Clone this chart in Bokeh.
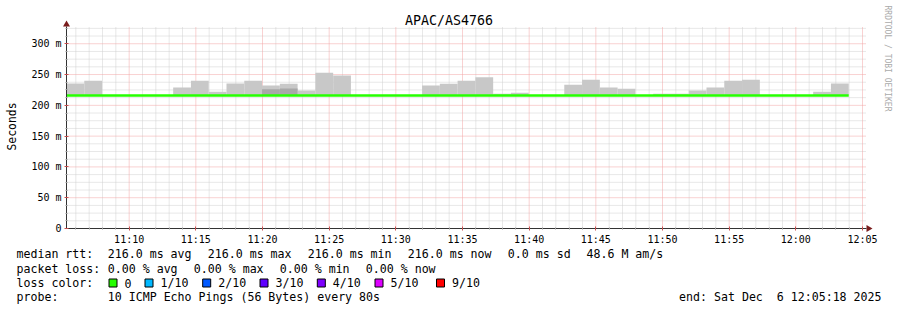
import math
import pandas as pd
from bokeh.plotting import figure
from bokeh.models import (ColumnDataSource, FixedTicker, DatetimeTickFormatter, Label,
                          BoxAnnotation, PolyAnnotation, Range1d)
from bokeh.embed import file_html
from bokeh.resources import INLINE

# ---------------- data ----------------
title_text = "APAC/AS4766"
start_time = "2025-12-06 11:05:18"
end_time = "2025-12-06 12:05:18"
step_seconds = 80

median_rtt = [216.0, 216.0, 216.0, 216.0, 216.0, 216.0, 216.0, 216.0, 216.0, 216.0, 216.0,
              216.0, 216.0, 216.0, 216.0, 216.0, 216.0, 216.0, 216.0, 216.0, 216.0, 216.0,
              216.0, 216.0, 216.0, 216.0, 216.0, 216.0, 216.0, 216.0, 216.0, 216.0, 216.0,
              216.0, 216.0, 216.0, 216.0, 216.0, 216.0, 216.0, 216.0, 216.0, 216.0, 216.0]
smoke_max = [235.6, 240.0, 216.0, 216.0, 216.0, 216.0, 229.0, 240.0, 222.0, 235.6, 240.0,
             232.0, 235.0, 224.0, 253.0, 248.6, 216.0, 216.0, 216.0, 216.0, 232.0, 235.0,
             240.0, 245.5, 219.0, 220.5, 216.0, 216.0, 233.5, 241.6, 229.0, 227.0, 216.0,
             219.0, 219.0, 224.0, 229.0, 240.0, 241.6, 216.0, 216.0, 216.0, 222.0, 235.6]
smoke_inner = [216.0, 216.0, 216.0, 216.0, 216.0, 216.0, 216.0, 216.0, 216.0, 216.0, 216.0,
               226.0, 227.5, 216.0, 216.0, 216.0, 216.0, 216.0, 216.0, 216.0, 216.0, 216.0,
               216.0, 216.0, 216.0, 216.0, 216.0, 216.0, 216.0, 216.0, 216.0, 216.0, 216.0,
               216.0, 216.0, 216.0, 216.0, 216.0, 216.0, 216.0, 216.0, 216.0, 216.0, 216.0]

x_tick_labels = ["11:10", "11:15", "11:20", "11:25", "11:30", "11:35", "11:40", "11:45",
                 "11:50", "11:55", "12:00", "12:05"]
y_ticks = [0, 50, 100, 150, 200, 250, 300]
y_tick_labels = ["0", "50 m", "100 m", "150 m", "200 m", "250 m", "300 m"]
y_minor_step = 12.5
y_max = 328

loss_labels = ["0", "1/10", "2/10", "3/10", "4/10", "5/10", "9/10"]
loss_colors = ["#26ff00", "#00b8ff", "#0059ff", "#5e00ff", "#7e00ff", "#dd00ff", "#ff0000"]

legend_rtt = ["216.0 ms avg", "216.0 ms max", "216.0 ms min", "216.0 ms now", "0.0 ms sd", "48.6 M am/s"]
legend_loss = ["0.00 % avg", "0.00 % max", "0.00 % min", "0.00 % now"]
probe_text = "10 ICMP Echo Pings (56 Bytes) every 80s"
end_text = "end: Sat Dec \u00a06 12:05:18 2025"

# ---------------- geometry of the canvas ----------------
W, H = 897, 310
PL, PR, PT, PB = 66, 866, 26, 228          # plot area in canvas pixels
FONT = "DejaVu Sans Mono"

t0 = pd.Timestamp(start_time)
t1 = pd.Timestamp(end_time)
sec_per_px = (t1 - t0).total_seconds() / (PR - PL)
val_per_px = y_max / (PB - PT)
x_lo = t0 - pd.Timedelta(seconds=PL * sec_per_px)
x_hi = t1 + pd.Timedelta(seconds=(W - PR) * sec_per_px)
y_lo = -(H - PB) * val_per_px
y_hi = y_max + PT * val_per_px

lefts = pd.date_range(t0, periods=len(smoke_max), freq=f"{step_seconds}s")
rights = lefts + pd.Timedelta(seconds=step_seconds)
src = ColumnDataSource(dict(left=lefts, right=rights, median=median_rtt,
                            smax=smoke_max, sinner=smoke_inner))

p = figure(width=W, height=H, x_axis_type="datetime",
           x_range=Range1d(x_lo, x_hi), y_range=Range1d(y_lo, y_hi),
           output_backend="svg", toolbar_location=None,
           min_border=0, min_border_left=0, min_border_right=0, min_border_top=0, min_border_bottom=0,
           background_fill_color="white", border_fill_color="white", outline_line_color=None)
p.xgrid.visible = False
p.ygrid.visible = False

def ms(ts):
    return pd.Timestamp(ts).value / 1e6

day = start_time.split(" ")[0]
x_major_t = [pd.Timestamp(f"{day} {lab}:00") for lab in x_tick_labels]
x_major = [ms(t) for t in x_major_t]
minute_times = [t for t in pd.date_range(t0.ceil("min"), t1, freq="1min") if ms(t) not in x_major]
x_minor = [ms(t) for t in minute_times]

y_minor = []
v = y_minor_step
while v < y_max:
    if v not in y_ticks:
        y_minor.append(v)
    v += y_minor_step

# ---------------- grid (drawn through the data scales) ----------------
GRID = "#d0d0d0"
MGRID = "#f2a4a4"
p.segment(x0=[t0] * len(y_minor), x1=[t1] * len(y_minor), y0=y_minor, y1=y_minor,
          line_color=GRID, line_dash="1 1", line_width=1)
p.segment(x0=minute_times, x1=minute_times, y0=[0] * len(minute_times), y1=[y_max] * len(minute_times),
          line_color=GRID, line_dash="1 1", line_width=1)
ym = [t for t in y_ticks if t > 0]
p.segment(x0=[t0] * len(ym), x1=[t1] * len(ym), y0=ym, y1=ym,
          line_color=MGRID, line_dash="1 1", line_width=1)
p.segment(x0=x_major_t, x1=x_major_t, y0=[0] * len(x_major_t), y1=[y_max] * len(x_major_t),
          line_color=MGRID, line_dash="1 1", line_width=1)

# ---------------- smoke and median ----------------
p.quad(left="left", right="right", bottom="median", top="smax", source=src,
       fill_color="#c8c8c8", line_color=None)
p.quad(left="left", right="right", bottom="median", top="sinner", source=src,
       fill_color="#a8a8a8", line_color=None)
step_x = list(lefts) + [rights[-1]]
step_y = median_rtt + [median_rtt[-1]]
p.step(step_x, step_y, mode="after", line_color="#26ff00", line_width=2.4)

# ---------------- axes at fixed data locations ----------------
xticker = FixedTicker(ticks=x_major, minor_ticks=x_minor)
yticker = FixedTicker(ticks=y_ticks, minor_ticks=y_minor)
p.xaxis.ticker = xticker
p.yaxis.ticker = yticker
p.xaxis.fixed_location = 0
p.yaxis.fixed_location = ms(t0)
p.xaxis.bounds = (ms(t0), ms(t1))
p.yaxis.bounds = (0, y_max)
p.xaxis.formatter = DatetimeTickFormatter(minutes="%H:%M", hourmin="%H:%M", hours="%H:%M",
                                          minsec="%H:%M", seconds="%H:%M")
p.yaxis.major_label_overrides = {t: lab for t, lab in zip(y_ticks, y_tick_labels)}
for ax in (p.xaxis, p.yaxis):
    ax.axis_line_color = "#333333"
    ax.major_tick_line_color = "#c85050"
    ax.minor_tick_line_color = "#999999"
    ax.major_tick_in = 2
    ax.major_tick_out = 2
    ax.minor_tick_in = 1
    ax.minor_tick_out = 1
    ax.major_label_text_font = FONT
    ax.major_label_text_font_size = "10px"
    ax.major_label_text_color = "#000000"
p.xaxis.major_label_standoff = 3
p.yaxis.major_label_standoff = 3

# ---------------- texts (canvas pixel positions) ----------------
def text(txt, X, Y, size="11px", align="left", baseline="middle", color="#000000", angle=0.0):
    p.add_layout(Label(x=X, y=H - Y, x_units="screen", y_units="screen",
                       text=txt, text_font=FONT, text_font_size=size, text_align=align,
                       text_baseline=baseline, text_color=color, angle=angle))

text(title_text, 448.5, 20, size="13.3px", align="center")
text("Seconds", 11.5, 126, size="11.4px", align="center", angle=math.pi / 2)
text("RRDTOOL / TOBI OETIKER", 886.5, 5, size="8px", color="#aaaaaa", angle=-math.pi / 2)

LS = "11.6px"
row_y = [253.5, 268, 282.5, 296.5]
text("median rtt:", 16, row_y[0], size=LS)
for s, X in zip(legend_rtt, [107.3, 207.3, 307.3, 407.3, 507.3, 586]):
    text(s, X, row_y[0], size=LS)
text("packet loss:", 16, row_y[1], size=LS)
for s, X in zip(legend_loss, [107.3, 193.3, 279.3, 365.3]):
    text(s, X, row_y[1], size=LS)
text("loss color:", 16, row_y[2], size=LS)
for lab, col, X in zip(loss_labels, loss_colors, [124, 160, 217.7, 275, 332.3, 390, 451.5]):
    bx = X - 15.5
    p.add_layout(BoxAnnotation(left=bx, right=bx + 8,
                               bottom=H - (row_y[2] + 4), top=H - (row_y[2] - 4),
                               left_units="screen", right_units="screen",
                               top_units="screen", bottom_units="screen",
                               fill_color=col, fill_alpha=1.0,
                               line_color="#000000", line_alpha=1.0, line_width=1))
    text(lab, X, row_y[2], size=LS)
text("probe:", 16, row_y[3], size=LS)
text(probe_text, 107.3, row_y[3], size=LS)
text(end_text, 881, row_y[3], size=LS, align="right")

# arrows at the axis ends
arrow_col = "#7a1c1c"
p.add_layout(PolyAnnotation(xs=[PL - 3.5, PL + 3.5, PL], ys=[H - PT, H - PT, H - PT + 6],
                            xs_units="screen", ys_units="screen",
                            fill_color=arrow_col, fill_alpha=1.0, line_color=None))
p.add_layout(PolyAnnotation(xs=[PR, PR, PR + 6], ys=[H - PB + 3.5, H - PB - 3.5, H - PB],
                            xs_units="screen", ys_units="screen",
                            fill_color=arrow_col, fill_alpha=1.0, line_color=None))

open("out.html", "w").write(file_html(p, INLINE))
